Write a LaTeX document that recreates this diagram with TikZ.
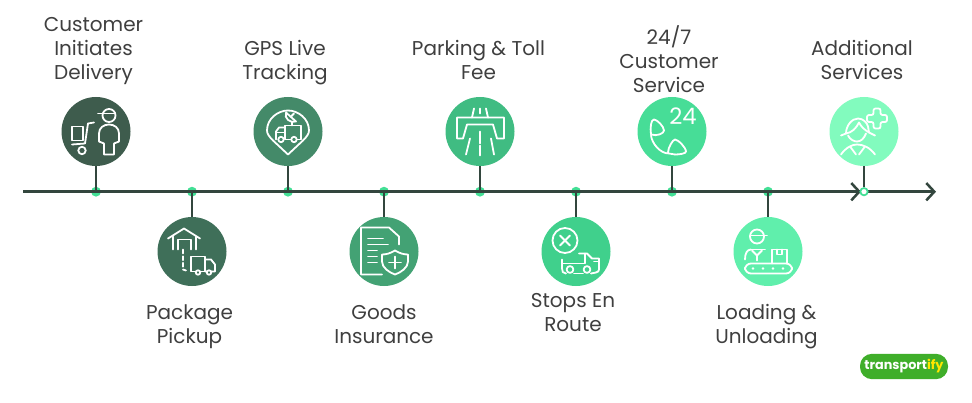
\documentclass[tikz,border=0pt]{standalone}
\usepackage{fontspec}
\setmainfont{Poppins}
\usetikzlibrary{arrows.meta}
\definecolor{linedark}{HTML}{33463E}
\definecolor{labelgrey}{HTML}{3F3F3F}
\definecolor{dotgreen}{HTML}{42DF95}
\definecolor{stepa}{HTML}{3E5C4D}
\definecolor{stepb}{HTML}{3F6F59}
\definecolor{stepc}{HTML}{448A69}
\definecolor{stepd}{HTML}{43A274}
\definecolor{stepe}{HTML}{40BC82}
\definecolor{stepf}{HTML}{40D08C}
\definecolor{stepg}{HTML}{47DD97}
\definecolor{steph}{HTML}{60EFAC}
\definecolor{stepi}{HTML}{82FBBE}
\definecolor{logogreen}{HTML}{3FAE2A}
\definecolor{logoyellow}{HTML}{FFE600}
\tikzset{
  stepcircle/.style={circle,minimum size=51.75pt,inner sep=0pt,fill=#1},
  stepdot/.style={circle,minimum size=7.4pt,inner sep=0pt,fill=dotgreen},
  steplabel/.style={align=center,text=labelgrey,inner sep=0pt,yshift=-3pt,font=\fontsize{15}{18}\selectfont,
    execute at begin node=\strut,execute at end node=\strut},
  timeline/.style={linedark,line width=1.9pt},
  stem/.style={linedark,line width=1.9pt},
  icon/.style={white,line width=1.35pt,line cap=round,line join=round},
}
\begin{document}
\begin{tikzpicture}[x=0.75pt,y=-0.75pt]
    \useasboundingbox (0,0) rectangle (972,403);

    \node [stepcircle=stepa] (c1) at (96,131.5) {};
    \node [stepcircle=stepb] (c2) at (192,251.5) {};
    \node [stepcircle=stepc] (c3) at (288,131.5) {};
    \node [stepcircle=stepd] (c4) at (384,251.5) {};
    \node [stepcircle=stepe] (c5) at (480,131.5) {};
    \node [stepcircle=stepf] (c6) at (576,251.5) {};
    \node [stepcircle=stepg] (c7) at (672,131.5) {};
    \node [stepcircle=steph] (c8) at (768,251.5) {};
    \node [stepcircle=stepi] (c9) at (864,131.5) {};

    \node [stepdot] (d1) at (96,191.7) {};
    \node [stepdot] (d2) at (192,191.7) {};
    \node [stepdot] (d3) at (288,191.7) {};
    \node [stepdot] (d4) at (384,191.7) {};
    \node [stepdot] (d5) at (480,191.7) {};
    \node [stepdot] (d6) at (576,191.7) {};
    \node [stepdot] (d7) at (672,191.7) {};
    \node [stepdot] (d8) at (768,191.7) {};

    \coordinate (linestart) at (23,191.7);
    \coordinate (linemid) at (861,191.7);
    \coordinate (lineend) at (936,191.7);
    \draw [timeline,-{Straight Barb[length=6pt,width=13pt,line width=1.9pt]}] (linestart) -- (linemid);
    \draw [timeline,-{Straight Barb[length=6pt,width=13pt,line width=1.9pt]}] (linestart) -- (lineend);
    \node [circle,minimum size=5.5pt,inner sep=0pt,draw=dotgreen,line width=1.3pt,fill=white] (d9) at (864,191.7) {};

    \draw [stem] (c1) -- (d1.center);
    \draw [stem] (c2) -- (d2.center);
    \draw [stem] (c3) -- (d3.center);
    \draw [stem] (c4) -- (d4.center);
    \draw [stem] (c5) -- (d5.center);
    \draw [stem] (c6) -- (d6.center);
    \draw [stem] (c7) -- (d7.center);
    \draw [stem] (c8) -- (d8.center);
    \draw [stem] (c9) -- (d9);

    \node [steplabel] (t1) at (93.5,48) {Customer\\Initiates\\Delivery};
    \node [steplabel] (t2) at (189.5,324) {Package\\Pickup};
    \node [steplabel] (t3) at (285,59) {GPS Live\\Tracking};
    \node [steplabel] (t4) at (384,324) {Goods\\Insurance};
    \node [steplabel] (t5) at (478.5,59) {Parking \& Toll\\Fee};
    \node [steplabel] (t6) at (573,312) {Stops En\\Route};
    \node [steplabel] (t7) at (669,58.5) {24/7\\Customer\\Service};
    \node [steplabel] (t8) at (766.5,323) {Loading \&\\Unloading};
    \node [steplabel] (t9) at (862,59) {Additional\\Services};

    % customer with cart
    \begin{scope}[shift={(c1.center)},icon]
        \draw (13,-16) circle (6.5);
        \draw (2,-18) -- (19,-18);
        \draw (8,23) -- (8,12) -- (3,10) -- (3,2) .. controls (3,-4) and (8,-7) .. (13,-7) .. controls (18,-7) and (23,-4) .. (23,2) -- (23,10) -- (18,12) -- (18,23) -- cycle;
        \draw (-24,-5) rectangle (-13,9);
        \draw (-2,-9) -- (-8,-8) -- (-11,12) -- (-24,13);
        \draw (-14,19) circle (3.7);
    \end{scope}

    % warehouse and truck
    \begin{scope}[shift={(c2.center)},icon]
        \draw (-24,-13) -- (-8,-23) -- (8,-13);
        \draw (-19,-15) -- (-19,-2);
        \draw (4,-15) -- (4,-2);
        \draw (-14,-2) -- (-14,-12) -- (-1,-12) -- (-1,-2);
        \draw [densely dashed] (-9,-2) -- (-9,18) -- (-6,19);
        \draw (-1,20) -- (-1,5) -- (13,5) -- (13,20) -- cycle;
        \draw (13,8) -- (19,8) -- (23,13) -- (23,20) -- (13,20);
        \draw [fill=stepb] (6,21) circle (2.2);
        \draw [fill=stepb] (17,21) circle (2.2);
    \end{scope}

    % pin with truck and dish
    \begin{scope}[shift={(c3.center)},icon]
        \draw (0,23) -- (-15,9) .. controls (-19,5) and (-21,2) .. (-21,-1) .. controls (-21,-13) and (-10,-21) .. (0,-21) .. controls (10,-21) and (21,-13) .. (21,-1) .. controls (21,2) and (19,5) .. (15,9) -- cycle;
        \draw (-12,8) -- (-12,0) -- (-9,-4) -- (-3,-4);
        \draw (-3,8) -- (-3,-6) -- (13,-6) -- (13,8) -- cycle;
        \draw (-12,1) -- (-3,1);
        \draw [fill=stepc] (-7,8) circle (2.7);
        \draw [fill=stepc] (6,8) circle (2.7);
        \draw (-2,-19) .. controls (-4,-13) and (2,-8) .. (8,-10) -- cycle;
        \draw (3,-15) -- (6,-18);
        \draw (4,-10) -- (4,-6);
    \end{scope}

    % document with shield
    \begin{scope}[shift={(c4.center)},icon]
        \draw (-2,23) -- (-23,23) -- (-23,-24) -- (5,-24) -- (15,-15) -- (15,-7);
        \draw (-16,-13) -- (-1,-13);
        \draw (-16,-7) -- (4,-7);
        \draw (-16,-1) -- (-7,-1);
        \draw (-16,5) -- (-7,5);
        \draw (-16,11) -- (-7,11);
        \draw (11,-1) .. controls (6,2) and (2,3) .. (-2,3) -- (-2,10) .. controls (-2,16) and (5,21) .. (11,23) .. controls (17,21) and (24,16) .. (24,10) -- (24,3) .. controls (20,3) and (16,2) .. (11,-1) -- cycle;
        \draw (11,5) -- (11,17);
        \draw (5,11) -- (17,11);
    \end{scope}

    % toll bridge
    \begin{scope}[shift={(c5.center)},icon]
        \draw (-23,-14) -- (24,-14) -- (24,7) -- (17,7) -- (13,-7) -- (-13,-7) -- (-17,7) -- (-23,7) -- cycle;
        \draw (-10,7) -- (-14,23);
        \draw (11,7) -- (14,23);
        \draw (-6,-23) -- (-8,-14);
        \draw (6,-23) -- (8,-14);
        \draw (0,-23) -- (0,-18);
        \draw (0,0) -- (0,12);
        \draw (0,14) -- (0,24);
    \end{scope}

    % stop and truck
    \begin{scope}[shift={(c6.center)},icon]
        \draw (-11,-11) circle (12.5);
        \draw (-16,-16) -- (-6,-6);
        \draw (-6,-16) -- (-16,-6);
        \draw (-14,8) -- (-14,17) .. controls (-14,20) and (-13,22) .. (-10,22);
        \draw (-2,22) -- (7,22);
        \draw (15,22) -- (20,21) .. controls (22,20) and (23,20) .. (23,18) -- (23,7) -- (16,7) -- (11,2) -- (3,2);
        \draw (9,2) -- (9,12) -- (-14,12);
        \draw (18,10) -- (23,10);
        \draw [fill=stepf] (-6,18) circle (3.4);
        \draw [fill=stepf] (11,18) circle (3.4);
    \end{scope}

    % phone and 24
    \begin{scope}[shift={(c7.center)},icon]
        \node [text=white,inner sep=0pt,font=\fontsize{17}{17}\selectfont] (hours) at (11,-15) {24};
        \draw (-21,3) .. controls (-22,-4) and (-21,-12) .. (-18,-12) .. controls (-15,-12) and (-8,-5) .. (-8,-1) .. controls (-8,2) and (-15,5) .. (-21,3) -- cycle;
        \draw (-4,21) .. controls (-4,16) and (1,8) .. (3,8) .. controls (6,8) and (14,16) .. (14,20) .. controls (14,22) and (8,23) .. (3,23);
        \draw (-21,4) .. controls (-20,12) and (-12,22) .. (-3,22) -- (3,23);
    \end{scope}

    % worker and conveyor
    \begin{scope}[shift={(c8.center)},icon]
        \draw (-11,-15) circle (7);
        \draw (-18,-16) -- (-1,-16);
        \draw (-23,8) .. controls (-23,2) and (-21,-2) .. (-17,-2);
        \draw (-17,-2) -- (-3,-2);
        \draw (-16,-1) -- (-11,4) -- (-6,-1);
        \draw (-11,4) -- (-11,9);
        \draw (4,12) -- (4,-2) -- (19,-2) -- (19,12);
        \draw (9,-2) -- (9,3) -- (14,3) -- (14,-2);
        \draw [rounded corners=4.5] (-23,12) rectangle (24,22);
        \fill (-15,17) circle (1.4);
        \fill (-5,17) circle (1.4);
        \fill (5,17) circle (1.4);
        \fill (15,17) circle (1.4);
    \end{scope}

    % person with plus
    \begin{scope}[shift={(c9.center)},icon]
        \draw [rounded corners=1.5] (9.5,-23) -- (16.5,-23) -- (16.5,-16.5) -- (23,-16.5) -- (23,-9.5) -- (16.5,-9.5) -- (16.5,-3) -- (9.5,-3) -- (9.5,-9.5) -- (3,-9.5) -- (3,-16.5) -- (9.5,-16.5) -- cycle;
        \draw (-23,4) -- (-18,2) .. controls (-18,-6) and (-12,-13) .. (-6,-13) .. controls (-1,-13) and (3,-9) .. (4,-5) -- (5,1) -- (11,4);
        \draw (-18,2) .. controls (-12,1) and (-8,-3) .. (-5,-9) .. controls (-3,-5) and (0,-2) .. (5,1);
        \draw (-16,4) .. controls (-14,8) and (-10,10) .. (-7,10) .. controls (-3,10) and (0,7) .. (2,2);
        \draw (-23,23) .. controls (-18,16) and (-12,13) .. (-7,13) .. controls (-1,13) and (6,16) .. (11,23);
        \draw (-14,15) -- (-8,23);
        \draw (1,15) -- (-5,23);
    \end{scope}

    \node [fill=logogreen,rounded corners=9pt,minimum width=66pt,minimum height=19pt,inner sep=0pt,font=\fontsize{9.6}{10}\selectfont\bfseries] (logo) at (904,366.5) {\textcolor{white}{transport}\textcolor{logoyellow}{ify}};
\end{tikzpicture}
\end{document}
